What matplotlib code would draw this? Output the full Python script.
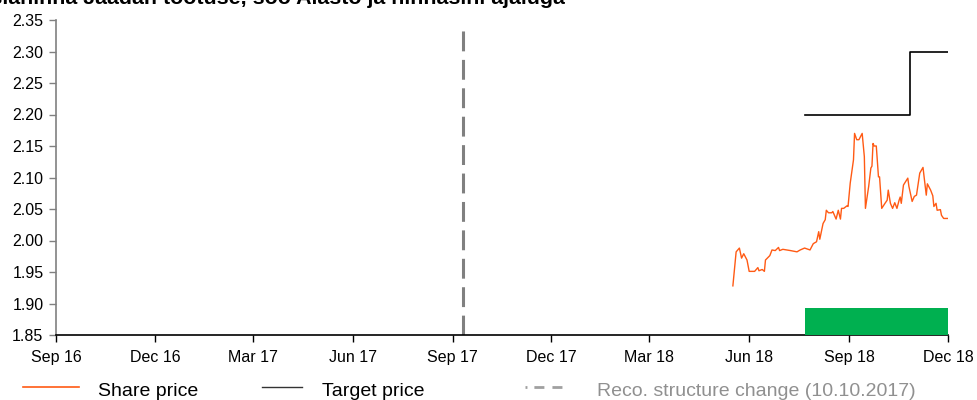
import matplotlib
matplotlib.use("Agg")
import matplotlib.pyplot as plt
from matplotlib.lines import Line2D
import pandas as pd

plt.rcParams['font.family'] = ['Liberation Sans', 'DejaVu Sans']

title_text = "Aktsiahinna Jaadan tootuse, soo Aiasto ja hinnasihi ajaluga"

share_dates = [
    "2018-05-17", "2018-05-20", "2018-05-23", "2018-05-25", "2018-05-27", "2018-05-30",
    "2018-06-01", "2018-06-06", "2018-06-09", "2018-06-10", "2018-06-13", "2018-06-15",
    "2018-06-16", "2018-06-20", "2018-06-22", "2018-06-25", "2018-06-28", "2018-06-29",
    "2018-07-02", "2018-07-09", "2018-07-15", "2018-07-18", "2018-07-22", "2018-07-27",
    "2018-07-30", "2018-08-02", "2018-08-04", "2018-08-05", "2018-08-08", "2018-08-10",
    "2018-08-11", "2018-08-13", "2018-08-16", "2018-08-17", "2018-08-20", "2018-08-22",
    "2018-08-24", "2018-08-25", "2018-08-27", "2018-08-30", "2018-08-31", "2018-09-02",
    "2018-09-05", "2018-09-06", "2018-09-08", "2018-09-10", "2018-09-13", "2018-09-15",
    "2018-09-16", "2018-09-19", "2018-09-21", "2018-09-22", "2018-09-23", "2018-09-24",
    "2018-09-26", "2018-09-28", "2018-09-29", "2018-10-01", "2018-10-04", "2018-10-06",
    "2018-10-07", "2018-10-09", "2018-10-11", "2018-10-13", "2018-10-15", "2018-10-17",
    "2018-10-18", "2018-10-19", "2018-10-21", "2018-10-25", "2018-10-26", "2018-10-29",
    "2018-10-31", "2018-11-02", "2018-11-05", "2018-11-08", "2018-11-09", "2018-11-11",
    "2018-11-12", "2018-11-15", "2018-11-17", "2018-11-18", "2018-11-20", "2018-11-21",
    "2018-11-24", "2018-11-25", "2018-11-27", "2018-12-01",
]
share_prices = [
    1.928, 1.982, 1.988, 1.972, 1.979, 1.969,
    1.951, 1.951, 1.957, 1.952, 1.954, 1.951,
    1.969, 1.976, 1.985, 1.984, 1.989, 1.984,
    1.986, 1.984, 1.982, 1.985, 1.988, 1.985,
    1.995, 1.998, 2.014, 2.002, 2.027, 2.033,
    2.048, 2.044, 2.044, 2.046, 2.034, 2.048,
    2.034, 2.051, 2.051, 2.055, 2.054, 2.091,
    2.128, 2.170, 2.160, 2.160, 2.170, 2.133,
    2.051, 2.086, 2.115, 2.118, 2.154, 2.150,
    2.150, 2.101, 2.101, 2.051, 2.059, 2.064,
    2.080, 2.059, 2.051, 2.060, 2.051, 2.064,
    2.069, 2.059, 2.088, 2.099, 2.086, 2.062,
    2.070, 2.072, 2.107, 2.116, 2.101, 2.072,
    2.090, 2.080, 2.071, 2.054, 2.059, 2.048,
    2.049, 2.040, 2.035, 2.035,
]

target_dates = ["2018-07-22", "2018-10-27", "2018-12-01"]
target_prices = [2.20, 2.30, 2.30]

reco_dates = ["2018-07-22", "2018-12-01"]
reco_level = 1.893

reco_change_date = "2017-09-11"
reco_change_top = 2.337

xtick_dates = ["2016-09-01", "2016-12-01", "2017-03-01", "2017-06-01", "2017-09-01",
               "2017-12-01", "2018-03-01", "2018-06-01", "2018-09-01", "2018-12-01"]
xtick_labels = ["Sep 16", "Dec 16", "Mar 17", "Jun 17", "Sep 17",
                "Dec 17", "Mar 18", "Jun 18", "Sep 18", "Dec 18"]
ytick_values = [1.85, 1.90, 1.95, 2.00, 2.05, 2.10, 2.15, 2.20, 2.25, 2.30, 2.35]

legend_labels = ["Share price", "Target price", "Reco. structure change (10.10.2017)"]

ORANGE = "#FF5A14"
GREEN = "#00B050"
GRAY = "#808080"

fig = plt.figure(figsize=(9.78, 4.0), dpi=100)
ax = fig.add_axes([56/978, 65/400, (948-56)/978, (335-20)/400])

sd = pd.to_datetime(share_dates)
ax.plot(sd, share_prices, color=ORANGE, lw=1.0, zorder=4)

td = pd.to_datetime(target_dates)
ax.step(td, target_prices, where='post', color='black', lw=1.2, zorder=4)

rd = pd.to_datetime(reco_dates)
ax.fill_between(rd, ytick_values[0], reco_level, color=GREEN, lw=0, zorder=3)

ax.plot(pd.to_datetime([reco_change_date, reco_change_date]),
        [ytick_values[0], reco_change_top], color=GRAY, lw=2.2,
        dashes=(6.5, 2.8), zorder=2)

ax.set_xlim(pd.Timestamp(xtick_dates[0]), pd.Timestamp(xtick_dates[-1]))
ax.set_ylim(ytick_values[0], ytick_values[-1])
ax.set_xticks(pd.to_datetime(xtick_dates))
ax.set_xticklabels(xtick_labels)
ax.set_yticks(ytick_values)
ax.set_yticklabels([f"{v:.2f}" for v in ytick_values])

for s in ['top', 'right']:
    ax.spines[s].set_visible(False)
ax.spines['left'].set_color(GRAY)
ax.spines['left'].set_linewidth(1.2)
ax.spines['bottom'].set_color('black')
ax.spines['bottom'].set_linewidth(1.2)
ax.tick_params(axis='y', direction='out', length=5, width=1, color=GRAY,
               labelsize=11.5, pad=4, labelcolor='black')
ax.tick_params(axis='x', direction='out', length=5, width=1, color='black',
               labelsize=11.5, pad=6, labelcolor='black')

# title (cut off at the top and left edge, as in the reference)
fig.text(565/978, 1 - 4/400, title_text, ha='right', va='baseline',
         fontsize=15.4, fontweight='bold')

# manual legend
ly = 1 - 387/400
ty = 1 - 392/400
fig.add_artist(Line2D([23/978, 79/978], [ly, ly], color=ORANGE, lw=1.2))
fig.text(98/978, ty, legend_labels[0], ha='left', va='center', fontsize=14)
fig.add_artist(Line2D([262/978, 302/978], [ly, ly], color='#333333', lw=1.0))
fig.text(322/978, ty, legend_labels[1], ha='left', va='center', fontsize=14)
fig.add_artist(Line2D([525/978, 565/978], [ly, ly], color='#A0A0A0', lw=2.0,
                      dashes=(0.7, 2.5, 3.6, 2.9, 3.6, 3.0)))
fig.text(597/978, ty, legend_labels[2], ha='left', va='center', fontsize=14,
         color='#909090')

fig.savefig("out.png", dpi=100)
